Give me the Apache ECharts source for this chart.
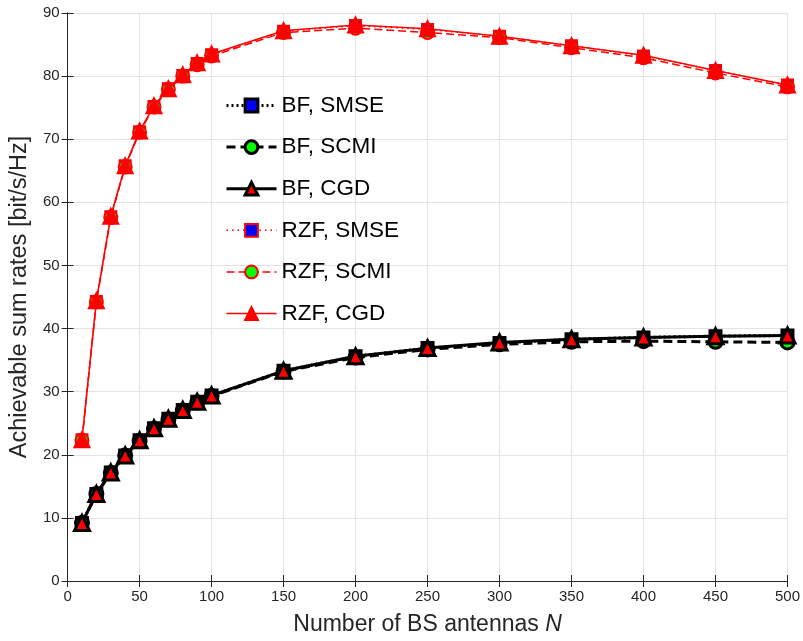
<!DOCTYPE html>
<html><head><meta charset="utf-8">
<script src="https://cdn.jsdelivr.net/npm/echarts@6/dist/echarts.min.js"></script>
<style>html,body{margin:0;padding:0;background:#fff}#c{width:803px;height:641px}</style>
</head><body><div id="c"></div>
<script>
var N = [10,20,30,40,50,60,70,80,90,100,150,200,250,300,350,400,450,500];
var bfSMSE = [9.2,13.8,17.2,19.9,22.3,24.2,25.7,27.1,28.4,29.4,33.3,35.6,36.9,37.7,38.3,38.6,38.8,38.9];
var bfSCMI = [9.2,13.8,17.1,19.9,22.2,24.1,25.6,27.0,28.3,29.3,33.2,35.4,36.7,37.5,37.9,38.0,37.9,37.8];
var bfCGD  = [9.2,13.8,17.2,19.9,22.3,24.2,25.7,27.1,28.4,29.4,33.3,35.6,36.9,37.8,38.3,38.6,38.8,38.9];
var rzfSMSE = [22.4,44.3,57.7,65.8,71.2,75.2,78.0,80.1,82.0,83.4,87.1,88.0,87.4,86.3,84.8,83.2,80.9,78.6];
var rzfSCMI = [22.3,44.2,57.6,65.6,71.1,75.1,77.9,80.0,81.8,83.2,86.9,87.6,86.9,86.1,84.5,82.9,80.5,78.3];
var rzfCGD  = [22.4,44.4,57.8,65.8,71.3,75.3,78.0,80.2,82.1,83.5,87.2,88.1,87.5,86.3,84.8,83.3,80.9,78.6];
var names = ['BF, SMSE','BF, SCMI','BF, CGD','RZF, SMSE','RZF, SCMI','RZF, CGD'];
var xTicks = [0,50,100,150,200,250,300,350,400,450,500];
var yTicks = [0,10,20,30,40,50,60,70,80,90];

function pairs(v){ return N.map(function(n,i){ return [n, v[i]]; }); }
var font = 'Liberation Sans, Arial, Helvetica, sans-serif';
var series = [];
var legendData = [];
function mk(name, data, color, lw, ltype, sym, ssize, fill, bw, z){
  series.push({name:name, type:'line', data:pairs(data), symbol:sym, symbolSize:ssize,
    z:z, lineStyle:{color:color, width:lw, type:ltype},
    itemStyle:{color:fill, borderColor:color, borderWidth:bw},
    emphasis:{disabled:true}, animation:false});
  legendData.push({name:name, lineStyle:{color:color, width:lw, type:ltype},
    itemStyle:{color:fill, borderColor:color, borderWidth:bw}});
}
mk(names[0], bfSMSE, '#000', 3, [2,3], 'rect', 11, '#0000ff', 3, 2);
mk(names[1], bfSCMI, '#000', 3, [9,5], 'circle', 13, '#00ff00', 3, 3);
mk(names[2], bfCGD, '#000', 3, 'solid', 'triangle', 15, '#ff0000', 3, 4);
mk(names[3], rzfSMSE, '#ff0000', 1.5, [1.5,4], 'rect', 11, '#0000ff', 2, 5);
mk(names[4], rzfSCMI, '#ff0000', 1.5, [8,4], 'circle', 13, '#00ff00', 2, 6);
mk(names[5], rzfCGD, '#ff0000', 1.5, 'solid', 'triangle', 15, '#ff0000', 2, 7);

var chart = echarts.init(document.getElementById('c'), null, {renderer:'canvas'});
var axLine = {show:true, lineStyle:{color:'#262626', width:1}};
var tick = {show:true, inside:true, length:6, lineStyle:{color:'#262626'}};
chart.setOption({
  backgroundColor:'#fff',
  animation:false,
  grid:{left:66, top:13, right:10, bottom:59, containLabel:false},
  legend:{
    orient:'vertical', left:220, top:89, itemWidth:50, itemHeight:16, itemGap:18.6,
    data:legendData, selectedMode:false,
    textStyle:{fontFamily:font, fontSize:22.5, color:'#000'}
  },
  xAxis:[{
    type:'value', min:0, max:500, interval:50, position:'bottom',
    name:'{n|Number of BS antennas }{i|N}', nameLocation:'middle', nameGap:32,
    nameTextStyle:{rich:{n:{fontFamily:font,fontSize:23,color:'#262626'},i:{fontFamily:font,fontSize:23,fontStyle:'italic',color:'#262626'}}},
    axisLine:axLine, axisTick:tick,
    axisLabel:{fontFamily:font, fontSize:15, color:'#262626', margin:8},
    splitLine:{show:true, lineStyle:{color:'#e3e3e3', width:1}}
  },{
    type:'value', min:0, max:500, interval:50, position:'top',
    axisLine:axLine, axisTick:tick, axisLabel:{show:false}, splitLine:{show:false}
  }],
  yAxis:[{
    type:'value', min:0, max:90, interval:10, position:'left',
    name:'Achievable sum rates [bit/s/Hz]', nameLocation:'middle', nameGap:33,
    nameTextStyle:{fontFamily:font, fontSize:23.5, color:'#262626'},
    axisLine:axLine, axisTick:tick,
    axisLabel:{fontFamily:font, fontSize:15, color:'#262626', margin:8},
    splitLine:{show:true, lineStyle:{color:'#e3e3e3', width:1}}
  },{
    type:'value', min:0, max:90, interval:10, position:'right',
    axisLine:axLine, axisTick:tick, axisLabel:{show:false}, splitLine:{show:false}
  }],
  series:series
});
</script></body></html>
